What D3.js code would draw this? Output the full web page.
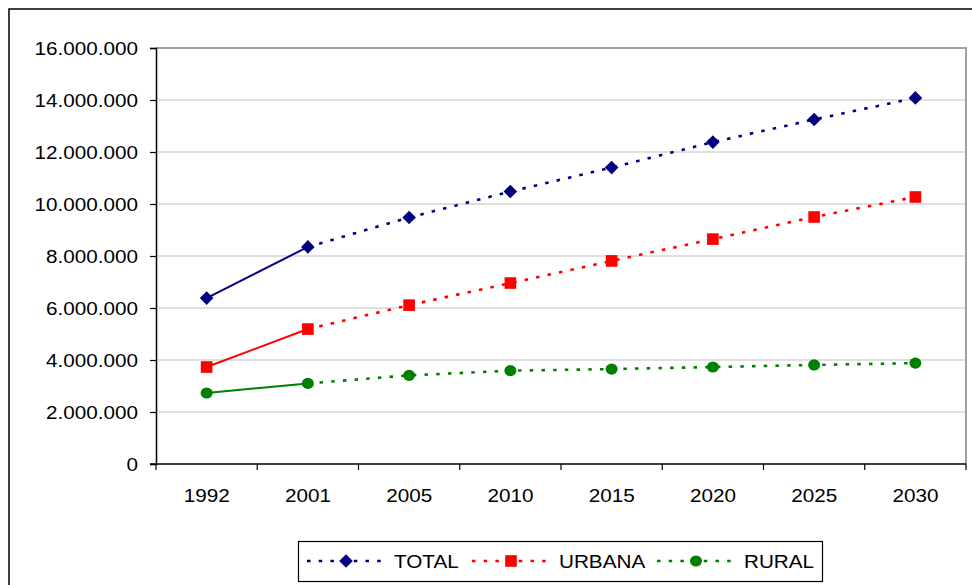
<!DOCTYPE html>
<html>
<head>
<meta charset="utf-8">
<script src="https://cdn.jsdelivr.net/npm/d3@7"></script>
<style>
  html, body { margin: 0; padding: 0; background: #fff; }
  svg { display: block; font-family: "Liberation Sans", Arial, sans-serif; }
</style>
</head>
<body>
<script>
const years = ["1992", "2001", "2005", "2010", "2015", "2020", "2025", "2030"];
const total = [6380000, 8350000, 9480000, 10480000, 11400000, 12380000, 13250000, 14080000];
const urbana = [3730000, 5190000, 6110000, 6960000, 7810000, 8650000, 9500000, 10270000];
const rural = [2730000, 3100000, 3410000, 3590000, 3650000, 3730000, 3810000, 3880000];
const yTicks = [0, 2000000, 4000000, 6000000, 8000000, 10000000, 12000000, 14000000, 16000000];
const seriesNames = ["TOTAL", "URBANA", "RURAL"];

(function () {
const W = 972, H = 585;
const pL = 156, pR = 966, pT = 48, pB = 464;
const SX = 1.15, FS = 18;

const svg = d3.select("body").append("svg").attr("width", W).attr("height", H);

// outer chart border
svg.append("rect").attr("x", 9).attr("y", 9).attr("width", W + 10).attr("height", H + 10)
  .attr("fill", "#fff").attr("stroke", "#000").attr("stroke-width", 1.5);

const x = d3.scaleBand().domain(years).range([pL, pR]).paddingInner(0).paddingOuter(0);
const y = d3.scaleLinear().domain([0, 16000000]).range([pB, pT]);

const loc = d3.formatLocale({ decimal: ",", thousands: ".", grouping: [3], currency: ["", ""] });
const fmt = loc.format(",d");

// gridlines
svg.append("g").selectAll("line").data(yTicks.filter(d => d > 0)).join("line")
  .attr("x1", pL).attr("x2", pR)
  .attr("y1", d => y(d)).attr("y2", d => y(d))
  .attr("stroke", "#c0c0c0").attr("stroke-width", 1.2);

// plot area border (top/right)
svg.append("path")
  .attr("d", `M${pL},${pT}H${pR}V${pB}`)
  .attr("fill", "none").attr("stroke", "#a0a0a0").attr("stroke-width", 2);

const series = [
  { name: seriesNames[0], values: total, color: "#000080", shape: "diamond" },
  { name: seriesNames[1], values: urbana, color: "#ff0000", shape: "square" },
  { name: seriesNames[2], values: rural, color: "#008000", shape: "circle" }
];

const cx = d => x(d) + x.bandwidth() / 2;
const line = d3.line().x(d => cx(d.year)).y(d => y(d.v));

function drawMarker(g, shape, color, px, py) {
  if (shape === "diamond") {
    const s = 6.8;
    g.append("path").attr("d", `M${px},${py - s}L${px + s},${py}L${px},${py + s}L${px - s},${py}Z`).attr("fill", color);
  } else if (shape === "square") {
    g.append("rect").attr("x", px - 5.8).attr("y", py - 5.8).attr("width", 11.6).attr("height", 11.6).attr("fill", color);
  } else {
    g.append("ellipse").attr("cx", px).attr("cy", py).attr("rx", 6).attr("ry", 5.6).attr("fill", color);
  }
}

const gSeries = svg.append("g");
series.forEach(s => {
  const pts = s.values.map((v, i) => ({ year: years[i], v }));
  gSeries.append("path").attr("d", line(pts.slice(0, 2)))
    .attr("fill", "none").attr("stroke", s.color).attr("stroke-width", 2);
  gSeries.append("path").attr("d", line(pts.slice(1)))
    .attr("fill", "none").attr("stroke", s.color).attr("stroke-width", 2.6)
    .attr("stroke-dasharray", "3.5,8.2");
});
series.forEach(s => {
  s.values.forEach((v, i) => drawMarker(gSeries, s.shape, s.color, cx(years[i]), y(v)));
});

// axes
const gy = svg.append("g").attr("transform", `translate(${pL},0)`)
  .call(d3.axisLeft(y).tickValues(yTicks).tickSize(6).tickFormat(fmt));
gy.select(".domain").attr("stroke", "#000").attr("stroke-width", 1.5);
gy.selectAll(".tick line").attr("stroke", "#000").attr("stroke-width", 1.2);
gy.selectAll(".tick text")
  .attr("x", null).attr("dy", null)
  .attr("transform", `translate(-18,6.5) scale(${SX},1)`)
  .attr("font-size", FS).attr("fill", "#000").attr("font-family", "Liberation Sans, Arial, sans-serif")
  .attr("text-anchor", "end");

const gx = svg.append("g").attr("transform", `translate(0,${pB})`);
gx.append("line").attr("x1", pL - 6).attr("x2", pR).attr("y1", 0).attr("y2", 0)
  .attr("stroke", "#000").attr("stroke-width", 1.5);
const bounds = years.map(d => x(d)).concat([pR]);
gx.selectAll("line.tk").data(bounds).join("line").attr("class", "tk")
  .attr("x1", d => d).attr("x2", d => d).attr("y1", 0).attr("y2", 6)
  .attr("stroke", "#000").attr("stroke-width", 1.2);
gx.selectAll("text").data(years).join("text")
  .attr("transform", d => `translate(${cx(d)},38) scale(${SX},1)`)
  .attr("text-anchor", "middle").attr("font-size", FS).attr("fill", "#000")
  .text(d => d);

// legend
const lg = svg.append("g");
lg.append("rect").attr("x", 298.5).attr("y", 541.5).attr("width", 524).attr("height", 40)
  .attr("fill", "#fff").attr("stroke", "#000").attr("stroke-width", 1.2);
const legendItems = [
  { lx: 307, mx: 346, tx: 394 },
  { lx: 472, mx: 511, tx: 559 },
  { lx: 657, mx: 696, tx: 744 }
];
series.forEach((s, i) => {
  const it = legendItems[i];
  const ly = 561;
  lg.append("line").attr("x1", it.lx).attr("x2", it.lx + 76).attr("y1", ly).attr("y2", ly)
    .attr("stroke", s.color).attr("stroke-width", 2.6).attr("stroke-dasharray", "3.5,8.2");
  drawMarker(lg, s.shape, s.color, it.mx, ly);
  lg.append("text").attr("transform", `translate(${it.tx},${ly + 6.5}) scale(${SX},1)`)
    .attr("font-size", FS).attr("fill", "#000").text(s.name);
});
})();
</script>
</body>
</html>
